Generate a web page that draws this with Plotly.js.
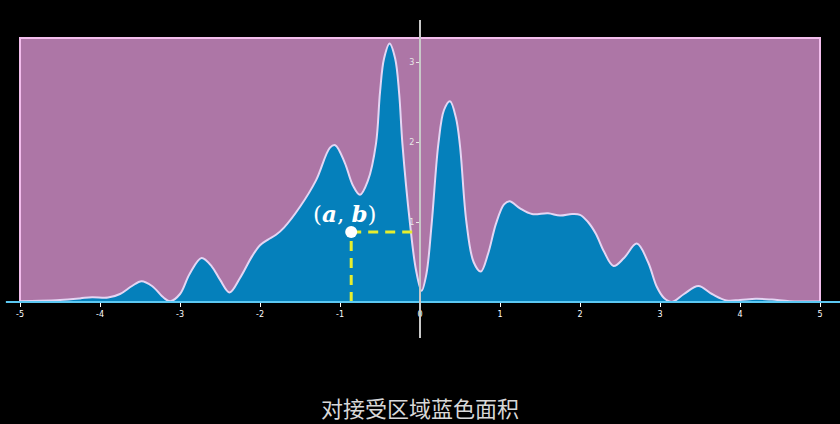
<!DOCTYPE html>
<html>
<head>
<meta charset="utf-8">
<script src="https://cdn.plot.ly/plotly-3.0.1.min.js"></script>
<style>html,body{margin:0;padding:0;background:#000;}#chart{width:840px;height:424px;}</style>
</head>
<body>
<div id="chart"></div>
<script>
// Density curve (blue area)
const curveX = [-5.0,-4.75,-4.5,-4.25,-4.1,-3.9,-3.75,-3.6,-3.48,-3.35,-3.2,-3.12,-3.0,-2.88,-2.73,-2.6,-2.5,-2.38,-2.25,-2.1,-2.0,-1.9,-1.8,-1.7,-1.5,-1.3,-1.125,-1.06,-0.94,-0.84,-0.75,-0.65,-0.55,-0.5,-0.45,-0.38,-0.31,-0.26,-0.22,-0.125,-0.05,0.02,0.08,0.146,0.23,0.3,0.375,0.45,0.5,0.58,0.67,0.76,0.85,0.95,1.05,1.12,1.25,1.4,1.6,1.75,1.9,2.0,2.1,2.2,2.3,2.42,2.55,2.71,2.85,2.96,3.05,3.15,3.3,3.48,3.65,3.83,4.0,4.2,4.4,4.62,5.0];
const curveY = [0.01,0.015,0.025,0.045,0.06,0.055,0.10,0.2,0.26,0.2,0.05,0.01,0.1,0.35,0.55,0.44,0.28,0.12,0.3,0.57,0.71,0.78,0.84,0.93,1.19,1.52,1.93,1.96,1.74,1.46,1.34,1.52,1.98,2.62,3.04,3.23,3.04,2.6,1.98,0.98,0.4,0.14,0.35,0.98,1.98,2.4,2.51,2.3,1.95,1.0,0.5,0.38,0.6,0.98,1.22,1.26,1.17,1.10,1.11,1.08,1.1,1.09,1.0,0.85,0.63,0.45,0.55,0.73,0.5,0.19,0.05,0.0,0.1,0.2,0.1,0.02,0.025,0.04,0.03,0.01,0.005];
// Acceptance rectangle (pink)
const rectX = [-5, 5, 5, -5, -5];
const rectY = [0, 0, 3.3, 3.3, 0];
// Sample point (a, b)
const pointA = [-0.86];
const pointB = [0.875];
const pointLabel = ['(<b><i>a</i></b>, <b><i>b</i></b>)'];
// Tick labels
const xTickVals = [-5,-4,-3,-2,-1,0,1,2,3,4,5];
const xTickText = ['-5','-4','-3','-2','-1','0','1','2','3','4','5'];
const yTickVals = [1,2,3];
const yTickText = ['1','2','3'];
const caption = '对接受区域蓝色面积';

const traces = [
  {x: rectX, y: rectY, type:'scatter', mode:'lines', fill:'toself', fillcolor:'#ad76a6',
   line:{color:'#f2bdec', width:2}, hoverinfo:'skip', showlegend:false},
  {x: curveX, y: curveY, type:'scatter', mode:'lines', fill:'tozeroy', fillcolor:'#0580bb',
   line:{color:'#e4d6f4', width:2, shape:'spline', smoothing:1}, hoverinfo:'skip', showlegend:false},
  {x: [pointA[0], pointA[0]], y: [0, pointB[0]], type:'scatter', mode:'lines',
   line:{color:'#e6ee2e', width:3, dash:'10px,7px'}, showlegend:false, hoverinfo:'skip'},
  {x: [pointA[0], 0], y: [pointB[0], pointB[0]], type:'scatter', mode:'lines',
   line:{color:'#e6ee2e', width:3, dash:'10px,7px'}, showlegend:false, hoverinfo:'skip'},
  {x: pointA, y: pointB, type:'scatter', mode:'markers',
   marker:{color:'#ffffff', size:12}, showlegend:false, hoverinfo:'skip'}
];

const yMin = -1.525, yMax = 3.775;
const zeroFrac = (0 - yMin) / (yMax - yMin);

const layout = {
  width: 840, height: 424,
  margin: {l:0, r:0, t:0, b:0, pad:0},
  paper_bgcolor: '#000000', plot_bgcolor: '#000000',
  showlegend: false,
  xaxis: {range:[-5.25,5.25], showgrid:false, zeroline:false, showline:false,
    anchor:'free', position: zeroFrac, automargin:false,
    tickvals: xTickVals, ticktext: xTickText, ticks:'outside', ticklen:4, tickwidth:1, tickcolor:'#ffffff',
    tickfont:{family:'DejaVu Sans', size:8, color:'#ffffff'}},
  yaxis: {range:[yMin,yMax], showgrid:false, zeroline:false, showline:false,
    anchor:'free', position: 0.5, automargin:false,
    tickvals: yTickVals, ticktext: yTickText, ticks:'outside', ticklen:4, tickwidth:1, tickcolor:'#e8e8e8',
    tickfont:{family:'DejaVu Sans', size:8, color:'#e8e8e8'}},
  shapes: [
    {type:'line', xref:'paper', yref:'y', x0:0.007, x1:1, y0:0, y1:0, line:{color:'#5cc8f2', width:2}, layer:'above'},
    {type:'line', xref:'x', yref:'paper', x0:0, x1:0, y0:(424-338)/424, y1:(424-20)/424, line:{color:'#c8c8c8', width:2}, layer:'above'}
  ],
  annotations: [
    {x: pointA[0], y: pointB[0], xref:'x', yref:'y', text: pointLabel[0], showarrow:false,
     xshift:-6, yshift:19, yanchor:'middle', font:{family:'DejaVu Serif', size:23, color:'#ffffff'}},
    {x:0.5, y:(424-407)/424, xref:'paper', yref:'paper', text: caption, showarrow:false,
     yanchor:'middle', font:{family:'Noto Sans CJK SC', size:22, color:'#d8d8d8'}}
  ]
};

Plotly.newPlot('chart', traces, layout, {displayModeBar:false, staticPlot:true});
</script>
</body>
</html>
